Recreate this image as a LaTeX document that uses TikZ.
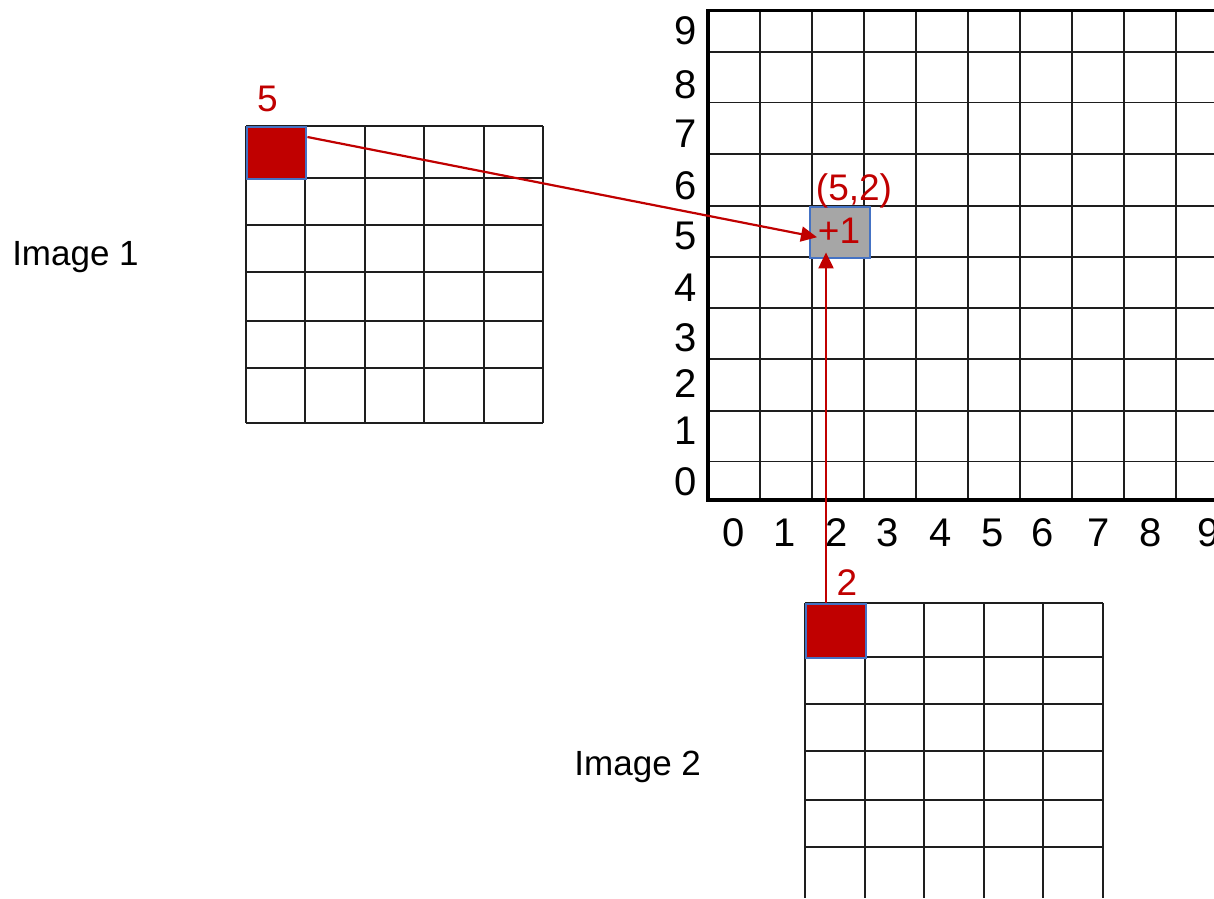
\documentclass[tikz,border=0pt]{standalone}
\usepackage{fontspec}
\setmainfont{Liberation Sans}
\usepackage{xcolor}
\usepackage{tikz}
\usetikzlibrary{
  arrows.meta,
  positioning
}
\definecolor{PixelRed}{RGB}{192, 0, 0}
\definecolor{PixelBlue}{RGB}{68, 114, 196}
\definecolor{SumGray}{RGB}{166, 166, 166}
\definecolor{GridBlack}{RGB}{30, 30, 30}
\tikzset{
    gridline/.style={draw=GridBlack, line width=1.8pt},
    axisline/.style={draw=black, line width=3.3pt, line join=miter},
    pixel/.style={rectangle, draw=PixelBlue, line width=2.4pt, inner sep=0pt, anchor=north west},
    ticknum/.style={font=\fontsize{40}{40}\selectfont, inner sep=0pt},
    rednum/.style={font=\fontsize{37}{37}\selectfont, text=PixelRed, inner sep=0pt},
    imgname/.style={font=\fontsize{35}{35}\selectfont, inner sep=0pt, anchor=base},
    link/.style={draw=PixelRed, line width=2.2pt, -{Triangle[length=16pt, width=15pt]}}
}

\begin{document}
\begin{tikzpicture}[x=1pt, y=-1pt]
            \useasboundingbox (0,0) rectangle (1214,898);
            \fill[white] (0,0) rectangle (1214,898);

            \foreach \gx in {246,305,365,424,484,543}
                \draw[gridline] (\gx,126) -- (\gx,423);
            \foreach \gy in {126,178,225,272,321,368,423}
                \draw[gridline] (246,\gy) -- (543,\gy);
            \node[pixel, fill=PixelRed, minimum width=59pt, minimum height=52pt] (src1) at (246,126) {};
            \node[rednum] (val1) at (267.5,99) {5};
            \node[imgname] (name1) at (75.5,265) {Image 1};

            \foreach \gx in {760,812,...,1176}
                \draw[gridline] (\gx,10.7) -- (\gx,500);
            \foreach \gy in {51.8,102.5,154,205.7,256.8,307.9,359,410.7,461.4}
                \draw[gridline] (708,\gy) -- (1214,\gy);
            \draw[axisline] (1214,10.7) -- (708,10.7) -- (708,500) -- (1214,500);
            \foreach \n/\yy in {0/482,1/431,2/384,3/337.5,4/288,5/236,6/186,7/134,8/85,9/31}
                \node[ticknum] (ylab\n) at (686,\yy) {\n};
            \foreach \n/\xx in {0/734,1/785,2/837,3/888,4/941,5/993,6/1043,7/1099,8/1151,9/1209}
                \node[ticknum] (xlab\n) at (\xx,533) {\n};
            \node[pixel, fill=SumGray, minimum width=60pt, minimum height=51pt] (sum) at (809,206) {};
            \node[rednum, anchor=base] (plus) at (839,243) {+1};
            \node[rednum, anchor=base] (pos) at (854,200) {(5,2)};

            \foreach \gx in {805,865,924,984,1043,1103}
                \draw[gridline] (\gx,603) -- (\gx,898);
            \foreach \gy in {603,657,704,751,800,847}
                \draw[gridline] (805,\gy) -- (1103,\gy);
            \node[pixel, fill=PixelRed, minimum width=60pt, minimum height=54pt] (src2) at (805,603) {};
            \node[rednum] (val2) at (847,582.5) {2};
            \node[imgname] (name2) at (637.7,775) {Image 2};

            \draw[link] ([yshift=-11pt]src1.north east) -- ([xshift=8pt, yshift=-4.5pt]sum.west);
            \draw[link] ([xshift=21pt]src2.north west) -- ([xshift=17pt, yshift=7pt]sum.south west);
\end{tikzpicture}
\end{document}
